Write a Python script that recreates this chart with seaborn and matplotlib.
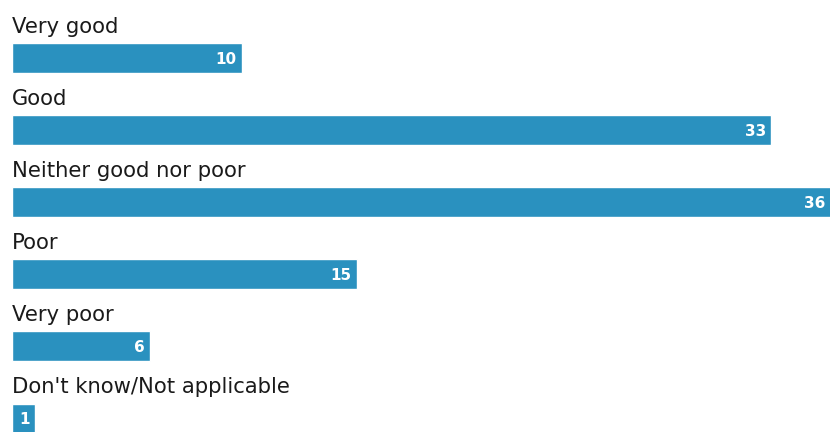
import matplotlib
matplotlib.use("Agg")
import matplotlib.pyplot as plt
import seaborn as sns
import pandas as pd

categories = ["Very good", "Good", "Neither good nor poor", "Poor", "Very poor",
              "Don't know/Not applicable"]
values = [10, 33, 36, 15, 6, 1]
value_labels = ["10", "33", "36", "15", "6", "1"]

sns.set_theme(style="white")
plt.rcParams['font.family'] = ['DejaVu Sans']

df = pd.DataFrame({"category": categories, "value": values})

fig = plt.figure(figsize=(8.30, 4.32), dpi=100)
ax = fig.add_axes([0, 0, 1, 1])
color = "#2a91bf"
sns.barplot(data=df, y="category", x="value", orient="h", color=color,
            width=0.41, saturation=1, ax=ax, order=categories)

xmax = 35.57
ax.set_xlim(-0.52, xmax)
ax.set_ylim(5.19, -0.806)
ax.axis("off")

for i, (cat, v, lab) in enumerate(zip(categories, values, value_labels)):
    ax.text(0, i - 0.35, cat, ha="left", va="baseline", fontsize=15.2,
            color="#1a1a1a")
    ax.text(min(v, xmax) - 0.22, i + 0.02, lab, ha="right", va="center",
            fontsize=11, fontweight="bold", color="white")

fig.savefig("out.png", dpi=100)
